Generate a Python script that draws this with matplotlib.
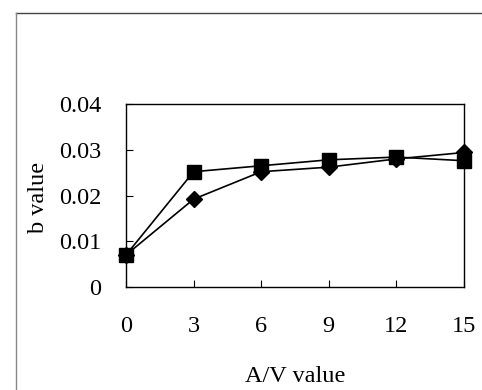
import matplotlib
matplotlib.use('Agg')
import matplotlib.pyplot as plt
from matplotlib.lines import Line2D

# DATA
av_values = [0, 3, 6, 9, 12, 15]
b_diamond = [0.0070, 0.0192, 0.0252, 0.0262, 0.0280, 0.0294]
b_square = [0.0070, 0.0252, 0.0265, 0.0278, 0.0284, 0.0276]
x_ticks = [0, 3, 6, 9, 12, 15]
y_ticks = [0, 0.01, 0.02, 0.03, 0.04]
y_tick_labels = ['0', '0.01', '0.02', '0.03', '0.04']

plt.rcParams['font.family'] = ['Liberation Serif', 'DejaVu Serif']

W, H = 482, 390
fig = plt.figure(figsize=(W / 100, H / 100), dpi=100)
ax = fig.add_axes([126 / W, 1 - 287 / H, (464 - 126) / W, (287 - 104) / H])

ax.plot(av_values, b_diamond, color='black', lw=1.2, marker='D',
        markersize=8, zorder=3, clip_on=False)
ax.plot(av_values, b_square, color='black', lw=1.2, marker='s',
        markersize=10, zorder=4, clip_on=False)

ax.set_xlim(0, 15)
ax.set_ylim(0, 0.04)
ax.set_xticks(x_ticks)
ax.set_yticks(y_ticks)
ax.set_yticklabels(y_tick_labels)
ax.tick_params(axis='x', direction='in', length=5, pad=21, labelsize=17.5)
ax.tick_params(axis='y', direction='in', length=5, pad=18, labelsize=17.5)
for s in ax.spines.values():
    s.set_linewidth(1.0)

fig.text(295 / W, 1 - 377 / H, 'A/V value', ha='center', va='center', fontsize=17.5)
fig.text(38 / W, 1 - 197 / H, 'b value', ha='center', va='center',
         rotation=90, fontsize=17.5)

# outer frame (top and left edges)
fig.add_artist(Line2D([16 / W, 1], [1 - 13 / H, 1 - 13 / H], color='#444444', lw=1.0))
fig.add_artist(Line2D([16 / W, 16 / W], [0, 1 - 13 / H], color='#888888', lw=1.0))

fig.savefig('out.png', dpi=100)
